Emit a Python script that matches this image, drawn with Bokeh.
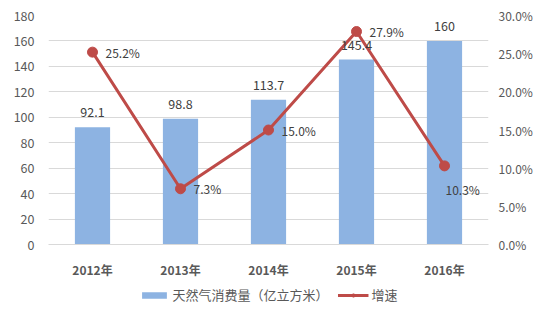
from bokeh.plotting import figure
from bokeh.layouts import column
from bokeh.models import (ColumnDataSource, Range1d, LinearAxis, SingleIntervalTicker,
                          PrintfTickFormatter, Legend, LegendItem, LabelSet)
from bokeh.core.properties import value
from bokeh.embed import file_html
from bokeh.resources import INLINE

years = ["2012年", "2013年", "2014年", "2015年", "2016年"]
consumption = [92.1, 98.8, 113.7, 145.4, 160]
growth = [25.2, 7.3, 15.0, 27.9, 10.3]
consumption_labels = ["92.1", "98.8", "113.7", "145.4", "160"]
growth_labels = ["25.2%", "7.3%", "15.0%", "27.9%", "10.3%"]
bar_name = "天然气消费量（亿立方米）"
line_name = "增速"

FONT = "Noto Sans CJK SC"
BAR_C = "#8DB3E2"
LINE_C = "#BE4B48"
TXT = "#595959"

src = ColumnDataSource(dict(x=years, y=consumption, g=growth,
                            yl=consumption_labels, gl=growth_labels))

p = figure(width=540, height=280, x_range=years, y_range=Range1d(0, 180),
           output_backend="svg", toolbar_location=None,
           min_border_left=48, min_border_right=52, min_border_top=15, min_border_bottom=36)
p.extra_y_ranges = {"pct": Range1d(0, 30)}
p.outline_line_color = None
p.background_fill_color = "white"
p.border_fill_color = "white"

bars = p.vbar(x="x", top="y", width=0.4, source=src, fill_color=BAR_C, line_color=None)
ln = p.line(x="x", y="g", source=src, y_range_name="pct", line_color=LINE_C, line_width=3)
pts = p.scatter(x="x", y="g", source=src, y_range_name="pct", size=10,
                fill_color=LINE_C, line_color=LINE_C)

# left axis
ya = p.yaxis[0]
ya.ticker = SingleIntervalTicker(interval=20)
ya.axis_line_color = None
ya.major_tick_line_color = None
ya.minor_tick_line_color = None
ya.major_label_text_font = FONT
ya.major_label_text_font_size = "12.5px"
ya.major_label_text_color = TXT
ya.major_label_standoff = 8

ra = LinearAxis(y_range_name="pct", ticker=SingleIntervalTicker(interval=5),
                formatter=PrintfTickFormatter(format="%.1f%%"))
ra.axis_line_color = None
ra.major_tick_line_color = None
ra.minor_tick_line_color = None
ra.major_label_text_font = FONT
ra.major_label_text_font_size = "12px"
ra.major_label_text_color = TXT
ra.major_label_standoff = 4
p.add_layout(ra, "right")

xa = p.xaxis[0]
xa.axis_line_color = "#D9D9D9"
xa.major_tick_line_color = None
xa.minor_tick_line_color = None
xa.major_label_text_font = FONT
xa.major_label_text_font_size = "12px"
xa.major_label_text_font_style = "bold"
xa.major_label_text_color = TXT
xa.major_label_standoff = 10

p.xgrid.grid_line_color = None
p.ygrid.grid_line_color = "#D9D9D9"
p.ygrid.ticker = SingleIntervalTicker(interval=20)

# value labels
bl = LabelSet(x="x", y="y", text="yl", source=src, text_align="center",
              text_baseline="bottom", y_offset=10, text_font=value(FONT),
              text_font_size="12.5px", text_color="#404040")
p.add_layout(bl)

src_a = ColumnDataSource(dict(x=years[:4], g=growth[:4], gl=growth_labels[:4]))
src_b = ColumnDataSource(dict(x=years[4:], g=growth[4:], gl=growth_labels[4:]))
p.text(x="x", y="g", text="gl", source=src_a, y_range_name="pct", x_offset=13,
       text_align="left", text_baseline="middle", text_font=value(FONT),
       text_font_size="12px", text_color="#404040")
p.text(x="x", y="g", text="gl", source=src_b, y_range_name="pct", x_offset=1, y_offset=24,
       text_align="left", text_baseline="middle", text_font=value(FONT),
       text_font_size="12px", text_color="#404040")

# legend strip below the chart (proxy renderers draw nothing, only legend glyphs)
p2 = figure(width=540, height=35, x_range=Range1d(0, 1), y_range=Range1d(0, 1),
            output_backend="svg", toolbar_location=None, min_border=0)
p2.axis.visible = False
p2.grid.grid_line_color = None
p2.outline_line_color = None
nan = float("nan")
proxy = ColumnDataSource(dict(x=[nan], y=[nan]))
lb = p2.vbar(x="x", top="y", width=0.1, source=proxy, fill_color=BAR_C, line_color=None)
ll = p2.line(x="x", y="y", source=proxy, line_color=LINE_C, line_width=3)
lp = p2.scatter(x="x", y="y", source=proxy, size=10, fill_color=LINE_C, line_color=LINE_C)

legend = Legend(items=[LegendItem(label=bar_name, renderers=[lb]),
                       LegendItem(label=line_name, renderers=[ll, lp])],
                orientation="horizontal", location="top_center",
                label_text_font=FONT, label_text_font_size="13px", label_text_color=TXT,
                glyph_width=31, glyph_height=8, label_standoff=3, spacing=9,
                border_line_color=None, background_fill_alpha=0, padding=0, margin=5)
p2.add_layout(legend, "center")

open("out.html", "w").write(file_html(column(p, p2, spacing=0), INLINE))
